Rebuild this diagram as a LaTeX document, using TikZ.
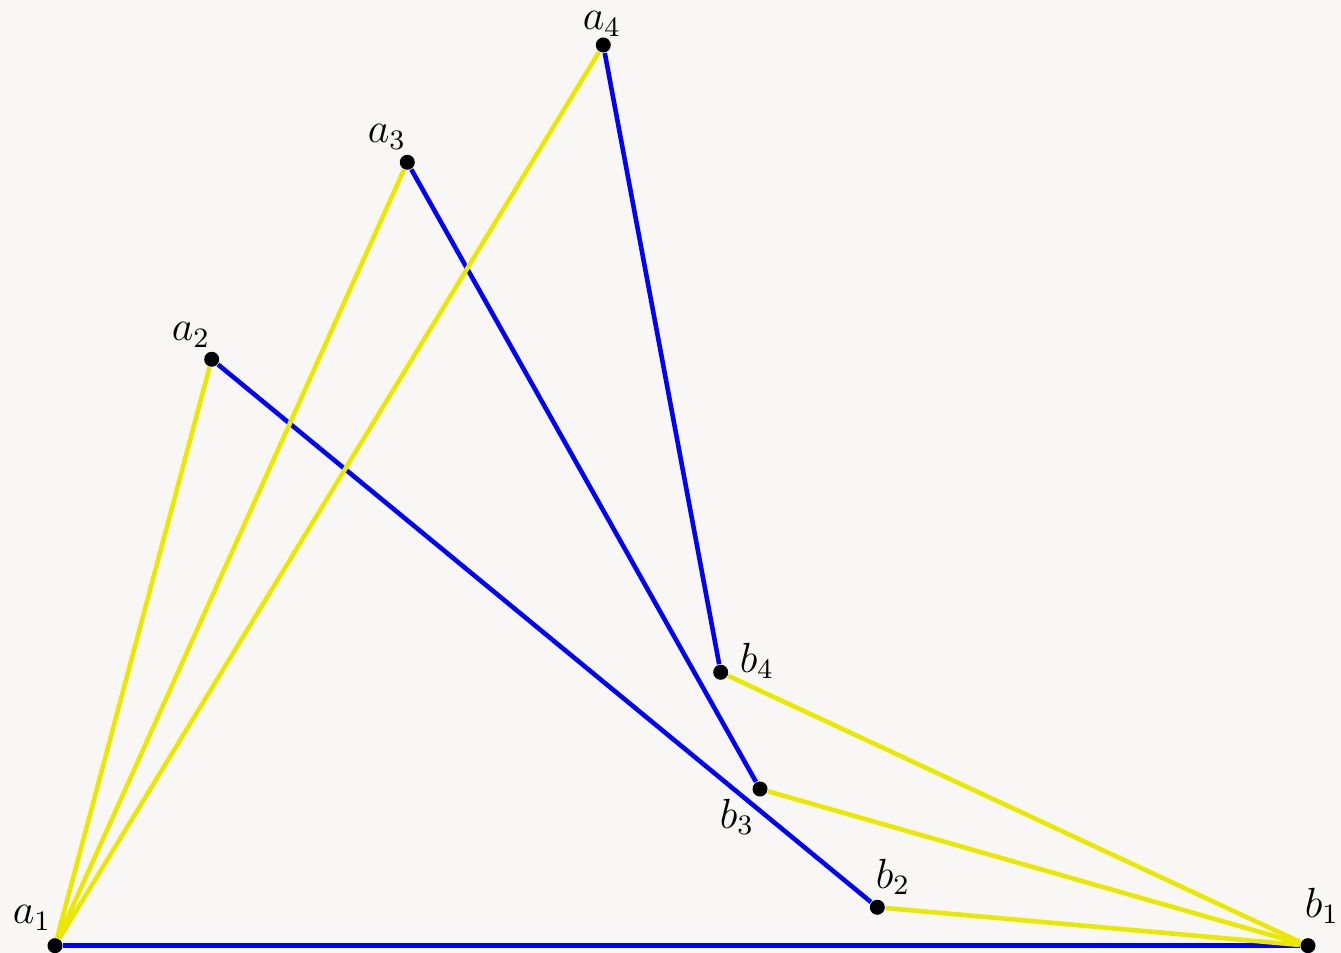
\documentclass[tikz,border=0pt]{standalone}
\definecolor{bgcolor}{RGB}{248,247,245}
\definecolor{segyellow}{RGB}{235,232,0}

\begin{document}
\begin{tikzpicture}[
    font=\large,
    dot/.style={
        circle,
        fill=black,
        inner sep=0pt,
        minimum size=0.15cm
    },
    ptlabel/.style={
        inner sep=1pt
    },
    bluesegment/.style={
        draw=blue,
        line width=1.3pt
    },
    yellowsegment/.style={
        draw=segyellow,
        line width=1.3pt
    }
]

\fill[bgcolor] (0,0) rectangle (13.41,9.53);
\useasboundingbox (0,0) rectangle (13.41,9.53);

% points
\node[dot] (a1) at (0.55,0.073) {};
\node[dot] (b1) at (13.08,0.073) {};
\node[dot] (a2) at (2.117,5.937) {};
\node[dot] (b2) at (8.773,0.457) {};
\node[dot] (a3) at (4.073,7.907) {};
\node[dot] (b3) at (7.60,1.64) {};
\node[dot] (a4) at (6.033,9.08) {};
\node[dot] (b4) at (7.207,2.807) {};

% labels
\node[ptlabel] (la1) at (0.32,0.35) {$a_1$};
\node[ptlabel] (la2) at (1.91,6.18) {$a_2$};
\node[ptlabel] (la3) at (3.87,8.16) {$a_3$};
\node[ptlabel] (la4) at (6.02,9.29) {$a_4$};
\node[ptlabel] (lb1) at (13.22,0.47) {$b_1$};
\node[ptlabel] (lb2) at (8.93,0.76) {$b_2$};
\node[ptlabel] (lb3) at (7.37,1.36) {$b_3$};
\node[ptlabel] (lb4) at (7.57,2.92) {$b_4$};

% segments a_i -- b_i
\foreach \i in {1,...,4}
    \draw[bluesegment] (a\i) -- (b\i);

% fans from a1 and b1
\foreach \i in {2,3,4} {
    \draw[yellowsegment] (a1) -- (a\i);
    \draw[yellowsegment] (b1) -- (b\i);
}

\end{tikzpicture}
\end{document}
